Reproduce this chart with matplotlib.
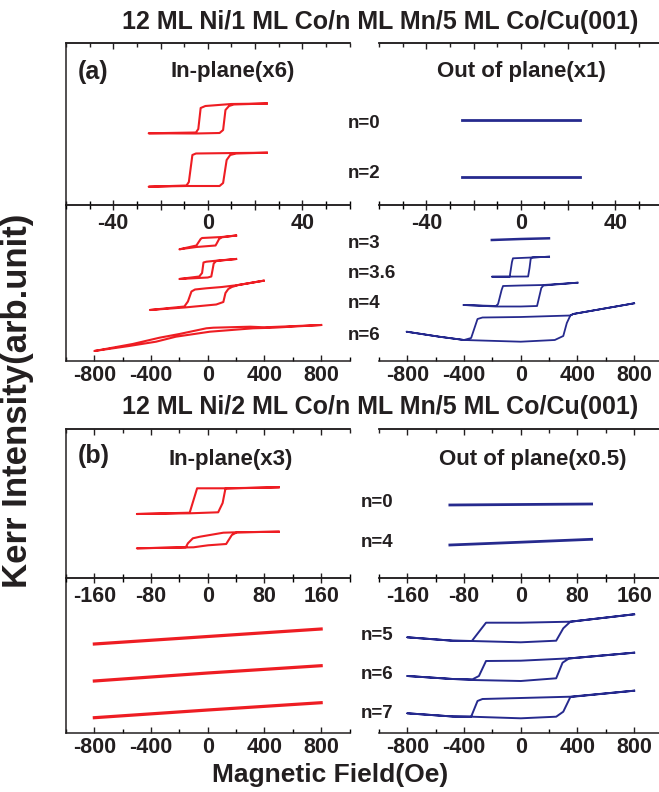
import matplotlib
matplotlib.use('Agg')
import matplotlib.pyplot as plt
from matplotlib.ticker import MultipleLocator, FixedLocator

# ---- data (field in Oe, Kerr signal in arb. units) ----
# each loop: descending branch then ascending branch
# (a) 12 ML Ni/1 ML Co/n ML Mn/5 ML Co/Cu(001)
a_in_n0_h = [25, 10, -1, -3, -4, -5, -25, -5, 5, 6.5, 7.5, 9, 11, 25]
a_in_n0_k = [10.15, 10.10, 9.90, 9.70, 7.60, 7.25, 7.17, 7.15, 7.20, 7.50, 9.50, 9.90, 10.05, 10.15]
a_in_n2_h = [25, 12, -5, -6.5, -8, -9, -25, -9, 5, 6.5, 8, 9.5, 12, 25]
a_in_n2_k = [5.23, 5.20, 5.15, 5.00, 2.30, 1.95, 1.83, 1.90, 1.90, 2.20, 4.50, 5.00, 5.15, 5.23]

a_out_n0_h = [-25, 0, 25]
a_out_n0_k = [8.5, 8.5, 8.5]
a_out_n2_h = [-25, 0, 25]
a_out_n2_k = [2.8, 2.8, 2.8]

a_in_n3_h = [200, 100, -40, -50, -80, -200, -80, 55, 65, 80, 100, 200]
a_in_n3_k = [12.55, 12.40, 12.30, 12.20, 11.55, 11.17, 11.40, 11.55, 11.80, 12.20, 12.37, 12.55]
a_in_n36_h = [200, 60, -10, -30, -40, -60, -200, 0, 25, 35, 42, 60, 200]
a_in_n36_k = [10.20, 10.03, 9.93, 9.85, 8.80, 8.45, 8.20, 8.35, 8.45, 9.20, 9.75, 10.00, 10.20]
a_in_n4_h = [394, 216, 100, -10, -90, -115, -140, -165, -408, -165, 60, 110, 125, 145, 170, 216, 394]
a_in_n4_k = [8.03, 7.60, 7.40, 7.27, 7.15, 6.95, 5.95, 5.45, 5.10, 5.35, 5.65, 5.90, 6.80, 7.20, 7.40, 7.60, 8.03]
a_in_n6_h = [800, 400, 300, 40, -10, -200, -340, -530, -800, -555, -365, -225, 15, 320, 465, 800]
a_in_n6_k = [3.60, 3.37, 3.43, 3.33, 3.27, 2.70, 2.33, 1.70, 1.00, 1.50, 1.93, 2.43, 2.93, 3.27, 3.33, 3.60]

a_out_n3_h = [-204, 0, 199]
a_out_n3_k = [12.10, 12.20, 12.27]
a_out_n36_h = [200, 75, -55, -62, -78, -204, 52, 62, 70, 80, 200]
a_out_n36_k = [10.43, 10.35, 10.27, 9.90, 8.43, 8.43, 8.45, 9.30, 10.20, 10.35, 10.43]
a_out_n4_h = [400, 160, 0, -125, -135, -160, -175, -405, -175, 0, 115, 125, 145, 160, 400]
a_out_n4_k = [7.83, 7.60, 7.55, 7.50, 7.10, 5.70, 5.50, 5.60, 5.45, 5.45, 5.50, 6.10, 7.30, 7.55, 7.83]
a_out_n6_h = [800, 370, 350, 0, -270, -305, -350, -400, -575, -805,
              -575, -400, 0, 240, 300, 325, 350, 370, 800]
a_out_n6_k = [5.77, 4.70, 4.55, 4.40, 4.35, 4.20, 2.30, 2.10, 2.43, 2.93,
              2.43, 2.10, 1.93, 2.10, 2.50, 3.80, 4.55, 4.70, 5.77]

# (b) 12 ML Ni/2 ML Co/n ML Mn/5 ML Co/Cu(001)
b_in_n0_h = [100, 25, -15, -25.5, -100, -25, 14.7, 21, 25, 100]
b_in_n0_k = [9.07, 8.97, 8.97, 6.53, 6.40, 6.47, 6.57, 7.50, 8.95, 9.07]
b_in_n4_h = [100, 40, 22, -11, -21, -28, -31, -100, -20, -7, 0.5, 26, 28, 34, 41, 100]
b_in_n4_k = [4.63, 4.57, 4.53, 4.13, 3.97, 3.47, 3.07, 2.97, 3.07, 3.20, 3.27, 3.40, 3.63, 4.30, 4.57, 4.63]

b_out_n0_h = [-100, 0, 100]
b_out_n0_k = [7.30, 7.35, 7.40]
b_out_n4_h = [-100, 0, 100]
b_out_n4_k = [3.30, 3.58, 3.87]

b_in_n5_h = [-800, 0, 800]
b_in_n5_k = [8.90, 9.65, 10.40]
b_in_n6_h = [-800, 0, 800]
b_in_n6_k = [5.20, 6.00, 6.73]
b_in_n7_h = [-800, 0, 800]
b_in_n7_k = [1.53, 2.30, 3.03]

b_out_n5_h = [800, 350, 0, -245, -345, -480, -800, -480, -345, 0, 250, 300, 350, 800]
b_out_n5_k = [11.87, 11.13, 11.03, 11.03, 9.20, 9.23, 9.57, 9.23, 9.20, 9.07, 9.23, 10.47, 11.13, 11.87]
b_out_n6_h = [800, 350, 0, -245, -295, -340, -480, -800, -480, -340, 0, 250, 295, 340, 800]
b_out_n6_k = [8.03, 7.47, 7.23, 7.20, 5.70, 5.37, 5.40, 5.70, 5.40, 5.30, 5.20, 5.47, 7.03, 7.45, 8.03]
b_out_n7_h = [800, 350, 0, -270, -305, -350, -480, -800, -480, -350, 0, 250, 300, 350, 800]
b_out_n7_k = [4.23, 3.63, 3.50, 3.40, 3.20, 1.63, 1.65, 1.97, 1.65, 1.63, 1.47, 1.63, 2.13, 3.60, 4.23]

a_top_tags = ['n=0', 'n=2']
a_bot_tags = ['n=3', 'n=3.6', 'n=4', 'n=6']
b_top_tags = ['n=0', 'n=4']
b_bot_tags = ['n=5', 'n=6', 'n=7']

RED = '#ee1d23'
BLUE = '#262a8e'
INK = '#231f20'

plt.rcParams['font.family'] = ['Liberation Sans', 'DejaVu Sans']
plt.rcParams['font.weight'] = 'bold'

W, H = 659, 792
fig = plt.figure(figsize=(W / 100, H / 100), dpi=100)


def box(x0, y0, x1, y1):
    # pixel box -> figure fraction rect
    return [x0 / W, 1 - y1 / H, (x1 - x0) / W, (y1 - y0) / H]


def style(ax, lim, major, minor, labels, ktop, upper, left_side):
    ax.patch.set_visible(False)
    ax.set_xlim(-lim, lim)
    ax.set_ylim(0, ktop)
    ax.set_yticks([])
    ax.xaxis.set_major_locator(FixedLocator(major))
    ax.xaxis.set_minor_locator(MultipleLocator(minor))
    ax.set_xticklabels(labels)
    ax.spines['right'].set_visible(False)
    if not left_side:
        ax.spines['left'].set_visible(False)
    for s in ax.spines.values():
        s.set_linewidth(1.1)
        s.set_color(INK)
    if upper:
        # shared border: ticks cross the line; top border: ticks point in
        ax.tick_params(axis='x', which='both', direction='inout', top=False)
        ax.tick_params(axis='x', which='major', length=7, width=1, pad=2)
        ax.tick_params(axis='x', which='minor', length=6, width=1)
        sec = ax.secondary_xaxis('top')
        sec.xaxis.set_major_locator(FixedLocator(major))
        sec.xaxis.set_minor_locator(MultipleLocator(minor))
        sec.tick_params(axis='x', which='both', direction='in', labeltop=False,
                        width=1, colors=INK)
        sec.tick_params(axis='x', which='major', length=4)
        sec.tick_params(axis='x', which='minor', length=3)
        sec.spines['top'].set_linewidth(1.1)
        sec.spines['top'].set_color(INK)
    else:
        ax.tick_params(axis='x', which='both', direction='in', top=False)
        ax.tick_params(axis='x', which='major', length=4, width=1, pad=3)
        ax.tick_params(axis='x', which='minor', length=3, width=1)
    ax.tick_params(axis='x', labelsize=15.5, colors=INK)
    for t in ax.get_xticklabels():
        t.set_fontweight('bold')


def tags(ax, names, ys, xpos):
    for name, y in zip(names, ys):
        ax.text(xpos, y, name, transform=ax.get_yaxis_transform(), fontsize=13.5,
                fontweight='bold', color=INK, ha='left', va='center', clip_on=False)


lab60 = ['-40', '', '0', '', '40']
lab1000 = ['-800', '-400', '0', '400', '800']
lab200 = ['-160', '-80', '0', '80', '160']

# ---------------- panel (a) ----------------
ax1 = fig.add_axes(box(66, 43, 349.5, 205))
ax1.plot(a_in_n0_h, a_in_n0_k, color=RED, lw=1.5)
ax1.plot(a_in_n2_h, a_in_n2_k, color=RED, lw=1.5)
style(ax1, 60, [-40, -20, 0, 20, 40], 10, lab60, 16.2, True, True)

ax2 = fig.add_axes(box(379, 43, 662.5, 205))
ax2.plot(a_out_n0_h, a_out_n0_k, color=BLUE, lw=2)
ax2.plot(a_out_n2_h, a_out_n2_k, color=BLUE, lw=2)
style(ax2, 60, [-40, -20, 0, 20, 40], 10, lab60, 16.2, True, False)
tags(ax2, a_top_tags, [8.2, 3.2], -0.109)

ax3 = fig.add_axes(box(66, 205, 349.5, 361))
ax3.plot(a_in_n3_h, a_in_n3_k, color=RED, lw=1.5)
ax3.plot(a_in_n36_h, a_in_n36_k, color=RED, lw=1.5)
ax3.plot(a_in_n4_h, a_in_n4_k, color=RED, lw=1.5)
ax3.plot(a_in_n6_h, a_in_n6_k, color=RED, lw=1.5)
style(ax3, 1000, [-800, -400, 0, 400, 800], 200, lab1000, 15.6, False, True)

ax4 = fig.add_axes(box(379, 205, 662.5, 361))
ax4.plot(a_out_n3_h, a_out_n3_k, color=BLUE, lw=1.8)
ax4.plot(a_out_n36_h, a_out_n36_k, color=BLUE, lw=1.3)
ax4.plot(a_out_n4_h, a_out_n4_k, color=BLUE, lw=1.3)
ax4.plot(a_out_n6_h, a_out_n6_k, color=BLUE, lw=1.3)
style(ax4, 1000, [-800, -400, 0, 400, 800], 200, lab1000, 15.6, False, False)
tags(ax4, a_bot_tags, [11.8, 8.8, 5.8, 2.6], -0.109)

# ---------------- panel (b) ----------------
ax5 = fig.add_axes(box(66, 429, 349.5, 578))
ax5.plot(b_in_n0_h, b_in_n0_k, color=RED, lw=1.5)
ax5.plot(b_in_n4_h, b_in_n4_k, color=RED, lw=1.5)
style(ax5, 200, [-160, -80, 0, 80, 160], 40, lab200, 14.9, True, True)

ax6 = fig.add_axes(box(379, 429, 662.5, 578))
ax6.plot(b_out_n0_h, b_out_n0_k, color=BLUE, lw=2)
ax6.plot(b_out_n4_h, b_out_n4_k, color=BLUE, lw=2)
style(ax6, 200, [-160, -80, 0, 80, 160], 40, lab200, 14.9, True, False)
tags(ax6, b_top_tags, [7.53, 3.53], -0.063)

ax7 = fig.add_axes(box(66, 578, 349.5, 733))
ax7.plot(b_in_n5_h, b_in_n5_k, color=RED, lw=2.3)
ax7.plot(b_in_n6_h, b_in_n6_k, color=RED, lw=2.3)
ax7.plot(b_in_n7_h, b_in_n7_k, color=RED, lw=2.3)
style(ax7, 1000, [-800, -400, 0, 400, 800], 200, lab1000, 15.5, False, True)

ax8 = fig.add_axes(box(379, 578, 662.5, 733))
ax8.plot(b_out_n5_h, b_out_n5_k, color=BLUE, lw=1.4)
ax8.plot(b_out_n6_h, b_out_n6_k, color=BLUE, lw=1.4)
ax8.plot(b_out_n7_h, b_out_n7_k, color=BLUE, lw=1.4)
style(ax8, 1000, [-800, -400, 0, 400, 800], 200, lab1000, 15.5, False, False)
tags(ax8, b_bot_tags, [9.8, 5.87, 1.9], -0.063)

# upper panels drawn last so their tick labels sit on top
for ax in (ax1, ax2, ax5, ax6):
    ax.set_zorder(3)


# ---------------- titles / labels ----------------
def ftext(x, y, s, size, ha='center', rot=0):
    fig.text(x / W, 1 - y / H, s, fontsize=size, fontweight='bold', color=INK,
             ha=ha, va='center', rotation=rot)


ftext(380, 22, '12 ML Ni/1 ML Co/n ML Mn/5 ML Co/Cu(001)', 18)
ftext(380, 407, '12 ML Ni/2 ML Co/n ML Mn/5 ML Co/Cu(001)', 18)
ftext(78, 72, '(a)', 18, ha='left')
ftext(233, 72, 'In-plane(x6)', 16)
ftext(521, 72, 'Out of plane(x1)', 16)
ftext(78, 456, '(b)', 18, ha='left')
ftext(231, 460, 'In-plane(x3)', 16)
ftext(533, 460, 'Out of plane(x0.5)', 16)
ftext(18, 401, 'Kerr Intensity(arb.unit)', 25, rot=90)
ftext(330, 775, 'Magnetic Field(Oe)', 19)

fig.savefig('out.png', dpi=100)
